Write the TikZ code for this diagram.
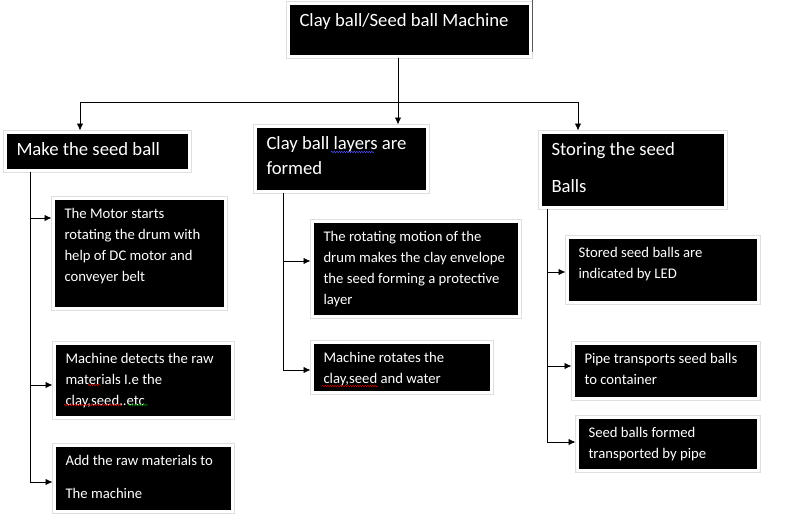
\documentclass[tikz,border=0pt]{standalone}
\usepackage{fontspec}
\setmainfont{Carlito}
\usetikzlibrary{arrows.meta,shadows,decorations.pathmorphing}

\begin{document}
\begin{tikzpicture}[x=1pt,y=-1pt,
    >={Latex[length=7pt,width=6.5pt]},
    box/.style={fill=black, text=white, draw=white, line width=3pt,
        inner xsep=11.5pt, inner ysep=5.5pt,
        preaction={draw=gray!25, line width=5pt},
        drop shadow={shadow xshift=2pt, shadow yshift=-2pt, fill=gray!45, opacity=1}},
    head/.style={box, font=\fontsize{18.7}{25}\selectfont},
    body/.style={box, font=\fontsize{14.7}{21}\selectfont},
    link/.style={line width=0.8pt},
    squig/.style={decorate, decoration={snake, segment length=2.5pt, amplitude=0.7pt}, line width=0.5pt}]

\useasboundingbox (0,0) rectangle (791,527);

% Riquadro: stile, nome, x1, y1, x2, y2, testo
\def\blk#1#2#3#4#5#6#7{%
  \node[#1, anchor=north west] (#2) at (#3-1.5,#4-1.5)
    {\parbox[t][\dimexpr#6pt-#4pt-8pt\relax][t]{\dimexpr#5pt-#3pt-20pt\relax}%
      {\begin{tabular}[t]{@{}l@{}}#7\end{tabular}}};}

% Titolo
\blk{head}{title}{288}{4}{527}{53}{Clay ball/Seed ball Machine}
\draw[gray!70!black, line width=0.8pt] (532,0) -- (532,52);

% Tre rami principali
\blk{head}{make}{5}{132}{186}{167}{Make the seed ball}
\blk{head}{layer}{255}{126}{424}{188}{Clay ball layers are\\formed}
\blk{head}{store}{540}{132}{722}{204}{Storing the seed\\[12pt]Balls}

% Passi sotto ogni ramo
\blk{body}{motor}{53}{198}{222}{305}{The Motor starts\\rotating the drum with\\help of DC motor and\\conveyer belt}
\blk{body}{detect}{54}{343}{229}{414}{Machine detects the raw\\materials I.e the\\clay,seed..etc}
\blk{body}{add}{54}{445}{229}{508}{Add the raw materials to\\[12pt]The machine}
\blk{body}{envelope}{312}{221}{516}{313}{The rotating motion of the\\drum makes the clay envelope\\the seed forming a protective\\layer}
\blk{body}{mix}{312}{342}{488}{389}{Machine rotates the\\clay,seed and water}
\blk{body}{led}{567}{237}{755}{299}{Stored seed balls are\\indicated by LED}
\blk{body}{pipe}{573}{343}{755}{395}{Pipe transports seed balls\\to container}
\blk{body}{formed}{577}{417}{755}{467}{Seed balls formed\\transported by pipe}

% Sottolineature del correttore
\draw[squig, blue!70!white] (331,152) -- (374,152);
\draw[squig, red!85!black] (88,385) -- (100,385);
\draw[squig, red!85!black] (64,405) -- (122,405);
\draw[squig, green!55!black] (128,405) -- (148,405);
\draw[squig, red!85!black] (322,386) -- (378,386);

% Collegamenti dal titolo
\coordinate (hub) at (398,102);
\coordinate (hubL) at (80,102);
\coordinate (hubR) at (578,102);
\draw[link] (title.south -| hub) -- (hub);
\draw[link] (hubL) -- (hubR);
\foreach \c/\n in {hubL/make, hub/layer, hubR/store}
    \draw[link,->] (\c) -- (\c |- \n.north);

% Dorsali verticali
\coordinate (endL) at (30,482);
\coordinate (endM) at (283,370);
\coordinate (endR) at (547,442);
\draw[link] (make.south -| endL) -- (endL);
\draw[link] (layer.south -| endM) -- (endM);
\draw[link] (store.south -| endR) -- (endR);

% Frecce verso i passi
\foreach \x/\y/\n in {30/218/motor, 30/385/detect, 30/482/add,
                      283/261/envelope, 283/370/mix,
                      547/272/led, 547/366/pipe, 547/442/formed} {
    \coordinate (tip) at (\x,\y);
    \draw[link,->] (tip) -- (tip -| \n.west);
}

\end{tikzpicture}
\end{document}
